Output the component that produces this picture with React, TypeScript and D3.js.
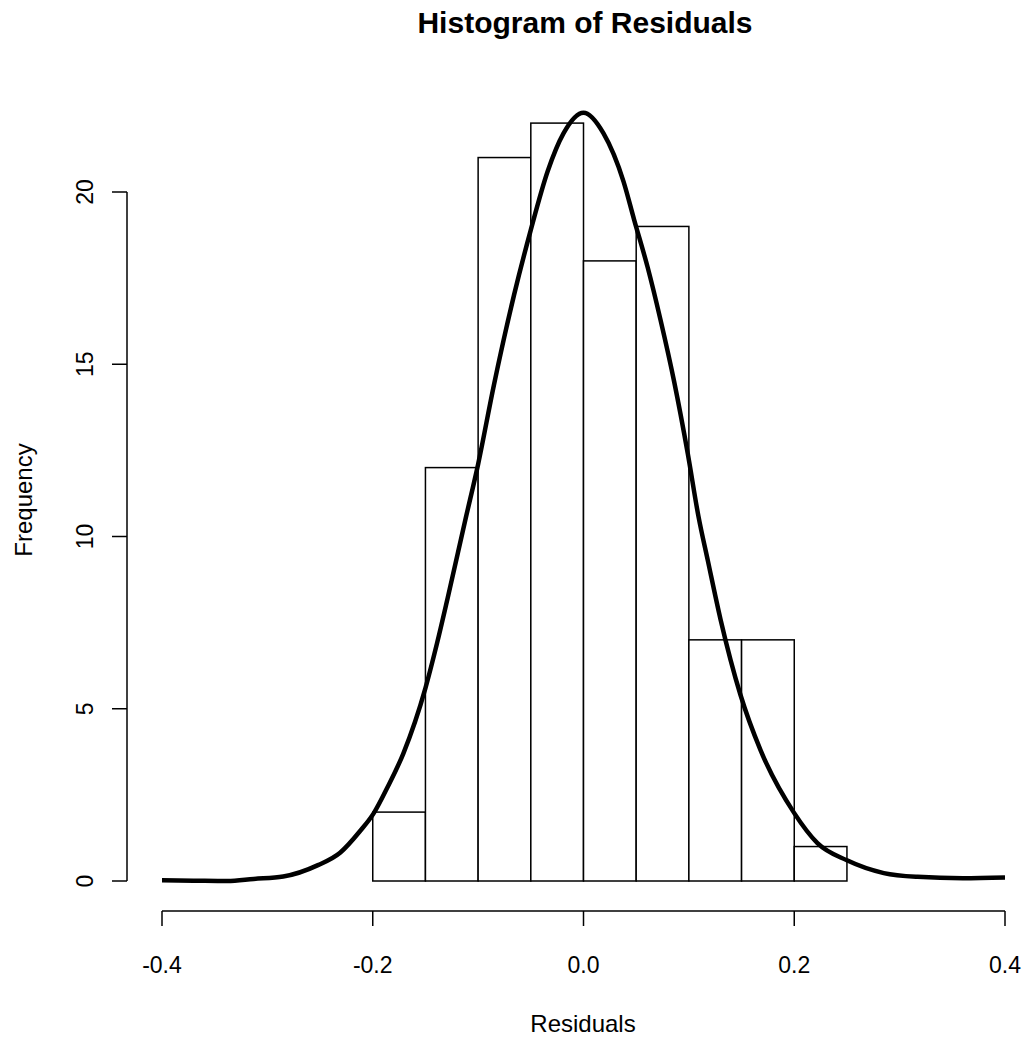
import React, { useRef, useEffect } from "react";
import * as d3 from "d3";

// histogram bins (left edges) and counts
const binStarts = [-0.2, -0.15, -0.1, -0.05, 0.0, 0.05, 0.1, 0.15, 0.2];
const binWidth = 0.05;
const counts = [2, 12, 21, 22, 18, 19, 7, 7, 1];

// overlay curve
const curveX = [
  -0.4, -0.37, -0.338, -0.313, -0.285, -0.252, -0.231, -0.212, -0.199, -0.186,
  -0.171, -0.15, -0.139, -0.129, -0.112, -0.1, -0.085, -0.066, -0.05, -0.034,
  -0.019, 0.0, 0.019, 0.038, 0.048, 0.061, 0.073, 0.086, 0.099, 0.109, 0.118,
  0.13, 0.149, 0.168, 0.2, 0.222, 0.25, 0.285, 0.317, 0.36, 0.4,
];
const curveY = [
  0.02, 0.01, 0.0, 0.06, 0.13, 0.46, 0.82, 1.45, 1.97, 2.72,
  3.7, 5.6, 6.9, 8.2, 10.5, 12.1, 14.4, 17.0, 18.9, 20.6,
  21.7, 22.3, 21.7, 20.3, 19.2, 17.8, 16.3, 14.5, 12.4, 10.6, 9.3,
  7.6, 5.4, 3.8, 1.97, 1.1, 0.6, 0.23, 0.12, 0.08, 0.1,
];

const xTicks = [-0.4, -0.2, 0.0, 0.2, 0.4];
const xTickLabels = ["-0.4", "-0.2", "0.0", "0.2", "0.4"];
const yTicks = [0, 5, 10, 15, 20];

const App = () => {
  const svgRef = useRef<SVGSVGElement>(null);

  useEffect(() => {
    document.body.style.margin = "0";
    const svg = d3.select(svgRef.current);
    svg.selectAll("*").remove();

    const width = 1028;
    const height = 1041;
    const font = "'Liberation Sans', Arial, sans-serif";

    svg.attr("width", width).attr("height", height);
    svg.append("rect").attr("width", width).attr("height", height).attr("fill", "#fff");

    const x = d3.scaleLinear().domain([-0.4, 0.4]).range([162, 1005]);
    const y = d3.scaleLinear().domain([0, 20]).range([881, 192]);

    // bars
    svg
      .selectAll("rect.bar")
      .data(counts)
      .join("rect")
      .attr("class", "bar")
      .attr("x", (d, i) => x(binStarts[i]))
      .attr("y", d => y(d))
      .attr("width", (d, i) => x(binStarts[i] + binWidth) - x(binStarts[i]))
      .attr("height", d => y(0) - y(d))
      .attr("fill", "#fff")
      .attr("stroke", "#000")
      .attr("stroke-width", 1.5);

    // curve
    const pts: [number, number][] = curveX.map((v, i) => [v, curveY[i]]);
    const line = d3
      .line<[number, number]>()
      .x(d => x(d[0]))
      .y(d => y(d[1]))
      .curve(d3.curveMonotoneX);
    svg
      .append("path")
      .attr("d", line(pts))
      .attr("fill", "none")
      .attr("stroke", "#000")
      .attr("stroke-width", 4.5)
      .attr("stroke-linejoin", "round");

    // x axis (R style, offset below plot)
    const axisY = 911;
    const xa = svg.append("g");
    xa.append("line")
      .attr("x1", x(-0.4)).attr("x2", x(0.4))
      .attr("y1", axisY).attr("y2", axisY)
      .attr("stroke", "#000").attr("stroke-width", 1.5);
    xa.selectAll("line.tick")
      .data(xTicks)
      .join("line")
      .attr("class", "tick")
      .attr("x1", d => x(d)).attr("x2", d => x(d))
      .attr("y1", axisY).attr("y2", axisY + 15)
      .attr("stroke", "#000").attr("stroke-width", 1.5);
    xa.selectAll("text")
      .data(xTicks)
      .join("text")
      .attr("x", d => x(d))
      .attr("y", 973)
      .attr("text-anchor", "middle")
      .style("font-family", font)
      .style("font-size", "23px")
      .text((d, i) => xTickLabels[i]);

    // y axis
    const axisX = 127;
    const ya = svg.append("g");
    ya.append("line")
      .attr("x1", axisX).attr("x2", axisX)
      .attr("y1", y(0)).attr("y2", y(20))
      .attr("stroke", "#000").attr("stroke-width", 1.5);
    ya.selectAll("line.tick")
      .data(yTicks)
      .join("line")
      .attr("class", "tick")
      .attr("x1", axisX - 15).attr("x2", axisX)
      .attr("y1", d => y(d)).attr("y2", d => y(d))
      .attr("stroke", "#000").attr("stroke-width", 1.5);
    ya.selectAll("text")
      .data(yTicks)
      .join("text")
      .attr("transform", d => `translate(93,${y(d)}) rotate(-90)`)
      .attr("text-anchor", "middle")
      .style("font-family", font)
      .style("font-size", "23px")
      .text(d => d);

    // labels
    svg.append("text")
      .attr("x", 585).attr("y", 33)
      .attr("text-anchor", "middle")
      .style("font-family", font)
      .style("font-size", "30px")
      .style("font-weight", "bold")
      .text("Histogram of Residuals");

    svg.append("text")
      .attr("x", 583).attr("y", 1032)
      .attr("text-anchor", "middle")
      .style("font-family", font)
      .style("font-size", "24px")
      .text("Residuals");

    svg.append("text")
      .attr("transform", "translate(32,500) rotate(-90)")
      .attr("text-anchor", "middle")
      .style("font-family", font)
      .style("font-size", "24px")
      .text("Frequency");
  }, []);

  return <svg ref={svgRef} style={{ display: "block" }} />;
};

export default App;
